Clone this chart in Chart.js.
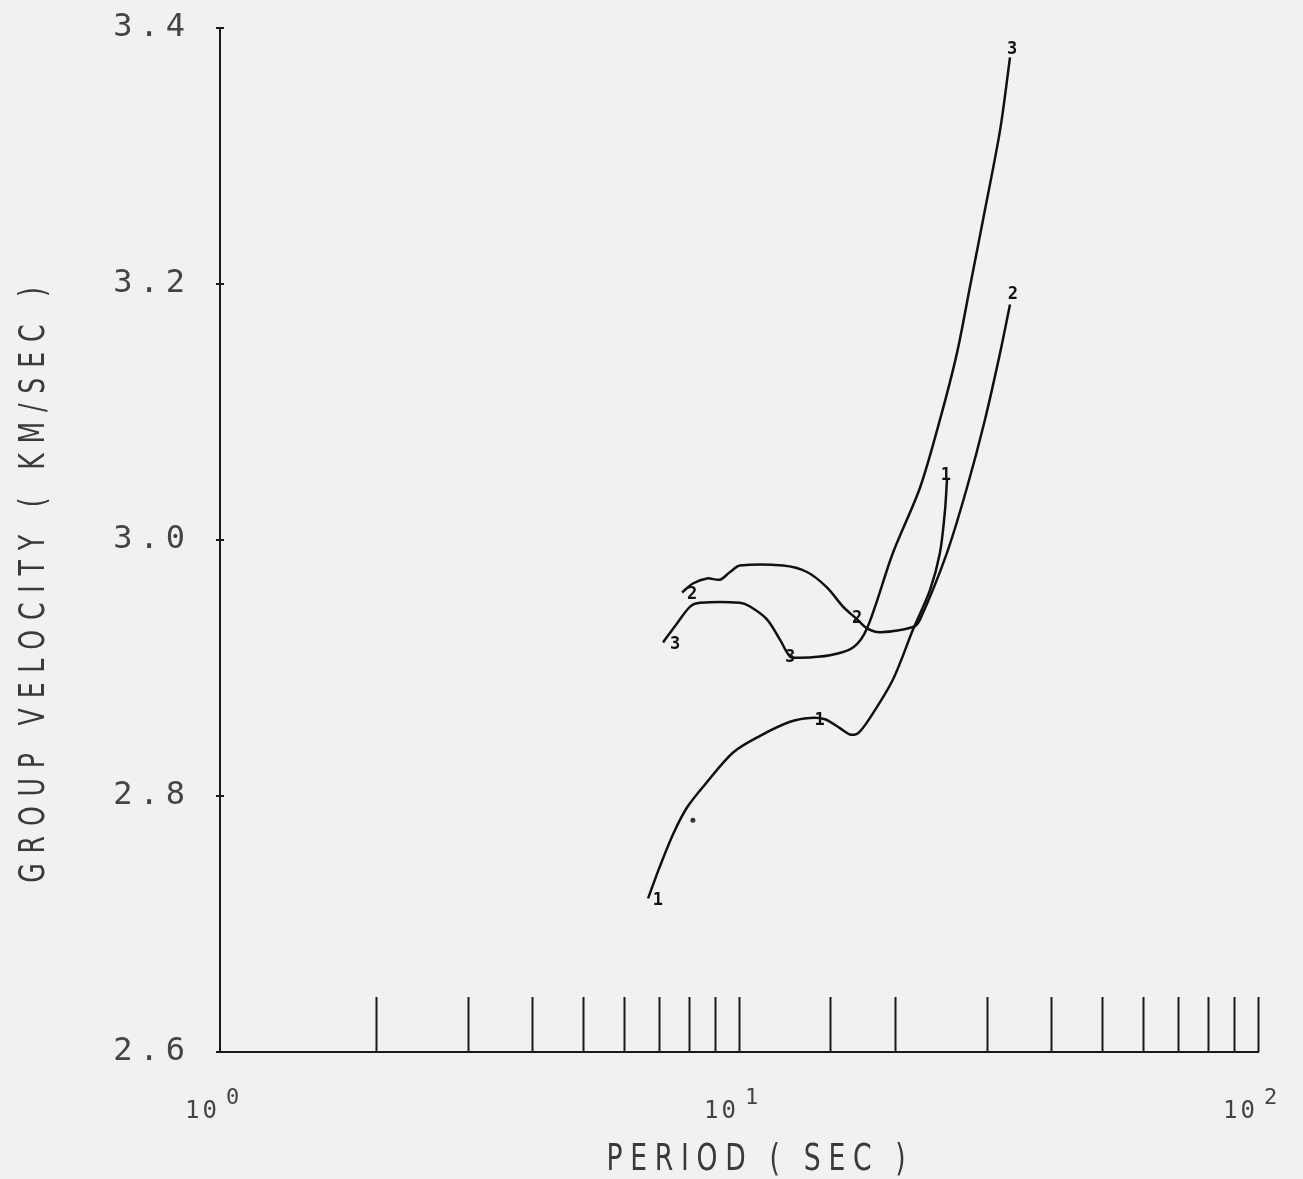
<!DOCTYPE html>
<html>
<head>
<meta charset="utf-8">
<script src="https://cdn.jsdelivr.net/npm/chart.js@4/dist/chart.umd.min.js"></script>
<style>
  html, body { margin: 0; padding: 0; background: #f1f1f1; }
  #wrap { width: 1303px; height: 1179px; }
</style>
</head>
<body>
<div id="wrap"><canvas id="dispChart"></canvas></div>
<script>
// period (sec) and group velocity (km/sec), one pair of arrays per curve
const period1 = [6.68, 7.04, 7.46, 7.94, 8.60, 9.74, 10.98, 12.54, 13.70, 14.64, 15.65, 16.37, 16.96, 17.88, 19.80, 21.64, 23.34, 24.39, 24.94, 25.16];
const velocity1 = [2.720, 2.745, 2.770, 2.791, 2.809, 2.834, 2.847, 2.858, 2.861, 2.860, 2.853, 2.848, 2.849, 2.861, 2.891, 2.930, 2.961, 2.990, 3.023, 3.047];

const period2 = [7.77, 8.15, 8.68, 9.19, 9.61, 10.04, 12.16, 13.52, 14.77, 15.86, 16.89, 17.65, 18.70, 21.64, 22.33, 25.16, 27.50, 29.78, 31.84, 33.28];
const velocity2 = [2.959, 2.966, 2.970, 2.969, 2.975, 2.980, 2.980, 2.975, 2.963, 2.948, 2.938, 2.931, 2.928, 2.932, 2.938, 2.990, 3.041, 3.094, 3.146, 3.184];

const period3 = [7.14, 7.60, 8.05, 8.41, 10.04, 10.50, 11.32, 12.00, 12.54, 13.11, 14.97, 16.59, 17.65, 19.80, 22.33, 24.39, 26.30, 27.87, 29.52, 31.84, 33.28];
const velocity3 = [2.920, 2.935, 2.948, 2.951, 2.951, 2.948, 2.938, 2.922, 2.909, 2.908, 2.910, 2.916, 2.931, 2.990, 3.041, 3.094, 3.146, 3.198, 3.250, 3.320, 3.377];

// curve number marks written along the curves
const markText = ['1', '1', '1', '2', '2', '2', '3', '3', '3'];
const markPeriod = [6.98, 14.3, 25.05, 8.12, 16.89, 33.7, 7.53, 12.54, 33.6];
const markVelocity = [2.718, 2.859, 3.050, 2.957, 2.939, 3.192, 2.918, 2.908, 3.383];

// axis ticks
const yTicks = [2.6, 2.8, 3.0, 3.2, 3.4];
const xDecades = [1, 10, 100];
const xExponents = ['0', '1', '2'];

function toPoints(xs, ys) {
    return xs.map(function(x, i) { return { x: x, y: ys[i] }; });
}

// plotter style axes: tall period ticks, cross ticks, labels, curve numbers, titles
const plotterMarks = {
    id: 'plotterMarks',
    afterDraw: function(chart) {
        const ctx = chart.ctx;
        const xs = chart.scales.x;
        const ys = chart.scales.y;
        const area = chart.chartArea;
        ctx.save();
        ctx.strokeStyle = '#1a1a1a';
        ctx.lineWidth = 2;
        xs.ticks.forEach(function(t) {
            if (t.value <= 1) return;
            const px = Math.round(xs.getPixelForValue(t.value)) + 0.5;
            ctx.beginPath();
            ctx.moveTo(px, area.bottom);
            ctx.lineTo(px, area.bottom - 55);
            ctx.stroke();
        });
        yTicks.forEach(function(v) {
            const py = ys.getPixelForValue(v);
            ctx.beginPath();
            ctx.moveTo(area.left - 4, py);
            ctx.lineTo(area.left + 4, py);
            ctx.stroke();
        });

        // velocity tick labels
        ctx.fillStyle = '#444';
        ctx.font = '32px "DejaVu Sans Mono"';
        ctx.letterSpacing = '7px';
        ctx.textAlign = 'right';
        ctx.textBaseline = 'middle';
        yTicks.forEach(function(v) {
            ctx.fillText(v.toFixed(1), area.left - 28, ys.getPixelForValue(v));
        });

        // period decade labels, 10 with raised exponent
        ctx.letterSpacing = '3px';
        xDecades.forEach(function(d, i) {
            const px = xs.getPixelForValue(d);
            ctx.font = '24px "DejaVu Sans Mono"';
            ctx.textAlign = 'right';
            ctx.fillText('10', px, area.bottom + 60);
            ctx.font = '22px "DejaVu Sans Mono"';
            ctx.textAlign = 'left';
            ctx.fillText(xExponents[i], px + 6, area.bottom + 46);
        });

        ctx.fillStyle = '#111';
        ctx.letterSpacing = '0px';
        ctx.font = 'bold 17px "DejaVu Sans Mono"';
        ctx.textAlign = 'center';
        markText.forEach(function(s, i) {
            ctx.fillText(s, xs.getPixelForValue(markPeriod[i]), ys.getPixelForValue(markVelocity[i]));
        });

        // axis titles in tall narrow plotter letters
        ctx.fillStyle = '#3a3a3a';
        ctx.save();
        ctx.translate(760, 1160);
        ctx.scale(0.7, 1);
        ctx.font = '38px "DejaVu Sans"';
        ctx.letterSpacing = '11px';
        ctx.fillText('PERIOD ( SEC )', 0, 0);
        ctx.restore();

        ctx.translate(35, 580);
        ctx.rotate(-Math.PI / 2);
        ctx.scale(0.7, 1);
        ctx.font = '36px "DejaVu Sans"';
        ctx.letterSpacing = '14px';
        ctx.fillText('GROUP VELOCITY ( KM/SEC )', 0, 0);
        ctx.restore();
    }
};

const curveStyle = {
    borderColor: '#111',
    borderWidth: 2.5,
    pointRadius: 0,
    fill: false,
    tension: 0.3
};

new Chart(document.getElementById('dispChart'), {
    type: 'line',
    data: {
        datasets: [
            Object.assign({ label: '1', data: toPoints(period1, velocity1) }, curveStyle),
            Object.assign({ label: '2', data: toPoints(period2, velocity2) }, curveStyle),
            Object.assign({ label: '3', data: toPoints(period3, velocity3) }, curveStyle),
            {
                label: 'speck', type: 'scatter',
                data: [{ x: 8.15, y: 2.781 }],
                pointRadius: 2.5, pointBackgroundColor: '#333', pointBorderWidth: 0
            }
        ]
    },
    options: {
        responsive: true,
        maintainAspectRatio: false,
        animation: false,
        layout: { padding: { top: 28, right: 45, left: 0, bottom: 0 } },
        plugins: { legend: { display: false }, tooltip: { enabled: false } },
        scales: {
            x: {
                type: 'logarithmic',
                min: 1,
                max: 100,
                afterFit: function(scale) { scale.height = 127; },
                grid: { display: false },
                border: { display: true, color: '#1a1a1a', width: 2 },
                ticks: { display: false, autoSkip: false }
            },
            y: {
                min: 2.6,
                max: 3.4,
                afterFit: function(scale) { scale.width = 220; },
                afterBuildTicks: function(scale) {
                    scale.ticks = yTicks.map(function(v) { return { value: v }; });
                },
                grid: { display: false },
                border: { display: true, color: '#1a1a1a', width: 2 },
                ticks: { display: false }
            }
        }
    },
    plugins: [plotterMarks]
});
</script>
</body>
</html>
